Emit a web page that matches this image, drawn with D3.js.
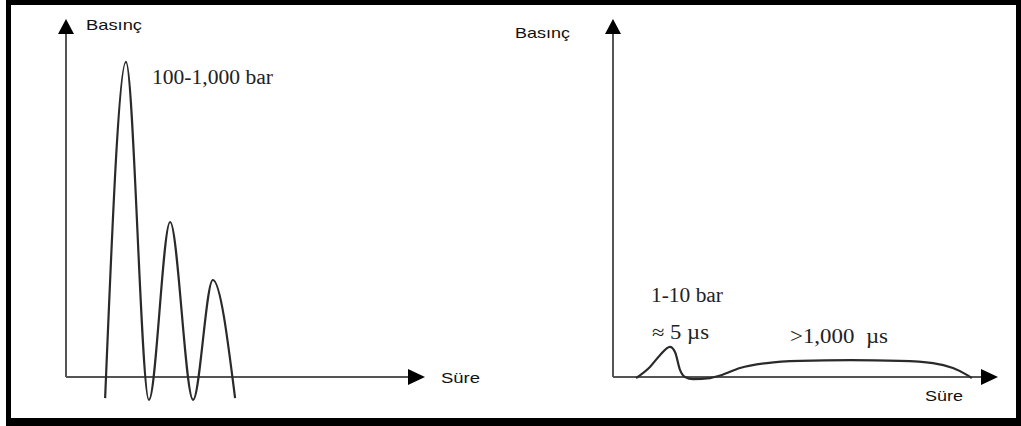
<!DOCTYPE html>
<html>
<head>
<meta charset="utf-8">
<script src="https://cdn.jsdelivr.net/npm/d3@7"></script>
<style>
  html, body { margin: 0; padding: 0; background: #fff; }
  svg { display: block; }
</style>
</head>
<body>
<svg id="chart" width="1021" height="426"></svg>
<script>
// ---------- data ----------
// Left panel: high-pressure oscillating pulse (schematic units, 0-100)
const leftTime     = [10.9, 16.7, 23.1, 29.0, 35.4, 40.9, 47.1];
const leftPressure = [-5.9, 88.0, -6.4, 43.3, -6.4, 27.1, -5.9];
// Right panel: small short spike, then long low plateau
const rightTime     = [6.0, 9.6, 12.2, 14.8, 16.1, 17.4, 18.7, 20.8, 25.2, 27.8, 33.0, 40.0, 48.6, 61.6, 74.5, 83.1, 88.3, 91.9, 93.2];
const rightPressure = [-0.3, 2.8, 6.1, 8.4, 7.0, 2.0, 0.0, -0.6, -0.3, 0.4, 2.5, 3.9, 4.5, 4.7, 4.5, 3.9, 2.5, 0.6, -0.3];
const axisLabelY = "Basınç";
const axisLabelX = "Süre";
const leftAnnotations  = ["100-1,000 bar"];
const rightAnnotations = ["1-10 bar", "≈ 5 µs", ">1,000  µs"];

// ---------- drawing ----------
const svg = d3.select("#chart");
const axisColor = "#555";
const curveColor = "#2a2a2a";

// frame
const frame = svg.append("g");
frame.append("rect").attr("x", 0).attr("y", 0).attr("width", 1021).attr("height", 426).attr("fill", "#fff");
frame.append("rect").attr("x", 6).attr("y", 0).attr("width", 1015).attr("height", 5).attr("fill", "#000");
frame.append("rect").attr("x", 6).attr("y", 0).attr("width", 5).attr("height", 426).attr("fill", "#000");
frame.append("rect").attr("x", 1016).attr("y", 0).attr("width", 5).attr("height", 426).attr("fill", "#000");
frame.append("rect").attr("x", 6).attr("y", 418).attr("width", 1015).attr("height", 8).attr("fill", "#000");

function panel(cfg) {
  const g = svg.append("g");
  const x = d3.scaleLinear().domain([0, 100]).range([cfg.x0, cfg.x1]);
  const y = d3.scaleLinear().domain([0, 100]).range([cfg.y0, cfg.y1]);

  // axes lines
  g.append("line").attr("x1", x(0)).attr("y1", y(0)).attr("x2", x(0)).attr("y2", y(100) + 10)
    .attr("stroke", axisColor).attr("stroke-width", 2);
  g.append("line").attr("x1", x(0)).attr("y1", y(0)).attr("x2", x(100) - 10).attr("y2", y(0))
    .attr("stroke", axisColor).attr("stroke-width", 2);
  // arrowheads
  const tipY = y(100), ax = x(0);
  g.append("path").attr("d", `M${ax},${tipY} L${ax - 8},${tipY + 15} L${ax + 8},${tipY + 15} Z`).attr("fill", "#000");
  const tipX = x(100), ay = y(0);
  g.append("path").attr("d", `M${tipX},${ay} L${tipX - 17},${ay - 8} L${tipX - 17},${ay + 8} Z`).attr("fill", "#000");

  // curve
  const pts = cfg.time.map((t, i) => [t, cfg.pressure[i]]);
  const line = d3.line().x(d => x(d[0])).y(d => y(d[1])).curve(cfg.curve);
  g.append("path").attr("d", line(pts)).attr("fill", "none")
    .attr("stroke", curveColor).attr("stroke-width", 2.2).attr("stroke-linejoin", "round");
  return g;
}

const L = panel({ x0: 66, x1: 425, y0: 377, y1: 19, time: leftTime, pressure: leftPressure, curve: d3.curveMonotoneX });
const R = panel({ x0: 613, x1: 998, y0: 377, y1: 19, time: rightTime, pressure: rightPressure, curve: d3.curveMonotoneX });

function sans(txt, x, y, w) {
  svg.append("text").attr("x", x).attr("y", y).text(txt)
    .attr("font-family", "'Liberation Sans', Arial, sans-serif").attr("font-size", 15)
    .attr("fill", "#111").attr("textLength", w).attr("lengthAdjust", "spacingAndGlyphs");
}
function serif(txt, x, y, w) {
  svg.append("text").attr("x", x).attr("y", y).text(txt)
    .attr("xml:space", "preserve").style("white-space", "pre")
    .attr("font-family", "'Liberation Serif', 'Times New Roman', serif").attr("font-size", 20)
    .attr("fill", "#222").attr("textLength", w).attr("lengthAdjust", "spacingAndGlyphs");
}

sans(axisLabelY, 86, 30, 56);
sans(axisLabelX, 441, 383, 39);
sans(axisLabelY, 515, 38, 55);
sans(axisLabelX, 925, 401, 38);

serif(leftAnnotations[0], 152, 84, 121);
serif(rightAnnotations[0], 651, 302, 72);
serif(rightAnnotations[1], 652, 339, 57);
serif(rightAnnotations[2], 790, 343, 98);
</script>
</body>
</html>
